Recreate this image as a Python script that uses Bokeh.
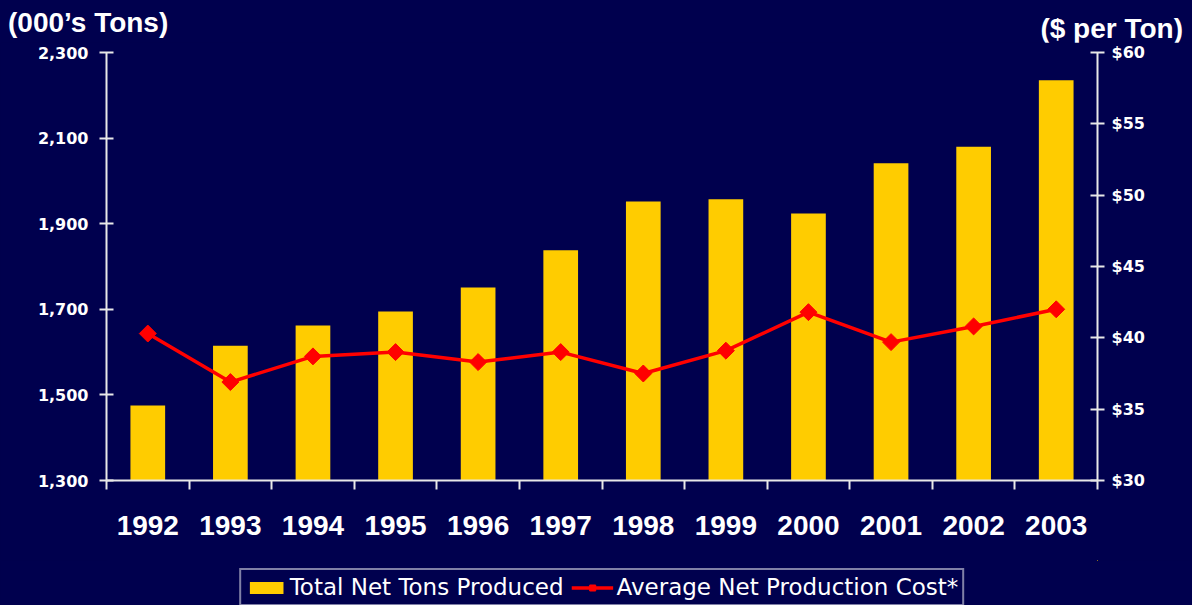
from bokeh.plotting import figure
from bokeh.layouts import column
from bokeh.models import (Range1d, LinearAxis, FixedTicker, NumeralTickFormatter,
                          PrintfTickFormatter, Legend, LegendItem, Div)
from bokeh.embed import file_html
from bokeh.resources import INLINE

years = ["1992", "1993", "1994", "1995", "1996", "1997", "1998", "1999", "2000", "2001", "2002", "2003"]
tons = [1475, 1615, 1662, 1695, 1751, 1838, 1952, 1957, 1924, 2041, 2080, 2235]
cost = [40.3, 36.9, 38.7, 39.0, 38.3, 39.0, 37.5, 39.1, 41.8, 39.7, 40.8, 42.0]
tons_ticks = [1300, 1500, 1700, 1900, 2100, 2300]
cost_ticks = [30, 35, 40, 45, 50, 55, 60]
left_title = "(000\u2019s Tons)"
right_title = "($ per Ton)"
bar_label = "Total Net Tons Produced"
line_label = "Average Net Production Cost*"

BG = "#00004e"
BAR = "#FFCC00"
RED = "#FF0000"
AX = "#e8e8e8"
FONT = "Liberation Sans"
TICKFONT = "DejaVu Sans"

W = 1192
TOP_H = 42
LEG_H = 45
MAIN_H = 605 - TOP_H - LEG_H

idx = list(range(len(years)))
bounds = [i - 0.5 for i in range(len(years) + 1)]

# --- header strip holding the two axis titles ---
title_css = ("position:absolute;font-family:Liberation Sans,Arial,sans-serif;font-weight:bold;"
             "font-size:28px;line-height:28px;color:white;white-space:nowrap;")
html = (f'<div style="position:relative;width:{W}px;height:{TOP_H}px;">'
        f'<span style="{title_css}left:8px;top:9px;">{left_title}</span>'
        f'<span style="{title_css}right:9px;top:15px;">{right_title}</span>'
        f'</div>')
header = Div(text=html, width=W, height=TOP_H, margin=0,
             styles={"background-color": BG, "overflow": "visible"})

# --- main chart ---
p = figure(width=W, height=MAIN_H, output_backend="svg", toolbar_location=None,
           x_range=Range1d(-0.5, len(years) - 0.5), y_range=Range1d(tons_ticks[0], tons_ticks[-1]),
           min_border_left=106, min_border_right=95, min_border_top=52 - TOP_H,
           min_border_bottom=MAIN_H - (480 - TOP_H),
           background_fill_color=BG, border_fill_color=BG, outline_line_color=None, margin=0)
p.extra_y_ranges = {"cost": Range1d(cost_ticks[0], cost_ticks[-1])}
p.grid.visible = False

p.vbar(x=idx, top=tons, bottom=tons_ticks[0], width=0.42, fill_color=BAR, line_color=None)
p.line(x=idx, y=cost, y_range_name="cost", line_color=RED, line_width=3.5)
p.scatter(x=idx, y=cost, y_range_name="cost", marker="square", angle=0.785398, size=12,
          fill_color=RED, line_color=RED)

# x axis
xa = p.xaxis[0]
xa.ticker = FixedTicker(ticks=idx, minor_ticks=bounds)
xa.major_label_overrides = {i: y for i, y in zip(idx, years)}
xa.major_tick_in = 0
xa.major_tick_out = 0
xa.minor_tick_in = 0
xa.minor_tick_out = 9
xa.minor_tick_line_color = AX
xa.minor_tick_line_width = 2
xa.axis_line_color = AX
xa.axis_line_width = 2
xa.major_label_standoff = 26
xa.major_label_text_font = FONT
xa.major_label_text_font_style = "bold"
xa.major_label_text_font_size = "28px"
xa.major_label_text_color = "white"

# left axis
ya = p.yaxis[0]
ya.ticker = FixedTicker(ticks=tons_ticks)
ya.formatter = NumeralTickFormatter(format="0,0")
ya.minor_tick_line_color = None
ya.major_tick_in = 7
ya.major_tick_out = 7
ya.major_tick_line_color = AX
ya.major_tick_line_width = 2
ya.axis_line_color = AX
ya.axis_line_width = 2
ya.major_label_standoff = 11
ya.major_label_text_font = TICKFONT
ya.major_label_text_font_style = "bold"
ya.major_label_text_font_size = "16px"
ya.major_label_text_color = "white"

# right axis
ra = LinearAxis(y_range_name="cost", ticker=FixedTicker(ticks=cost_ticks),
                formatter=PrintfTickFormatter(format="$%d"))
ra.minor_tick_line_color = None
ra.major_tick_in = 7
ra.major_tick_out = 7
ra.major_tick_line_color = AX
ra.major_tick_line_width = 2
ra.axis_line_color = AX
ra.axis_line_width = 2
ra.major_label_standoff = 7
ra.major_label_text_font = TICKFONT
ra.major_label_text_font_style = "bold"
ra.major_label_text_font_size = "16px"
ra.major_label_text_color = "white"
p.add_layout(ra, "right")

# --- legend strip: same series and styles, kept outside this strip's visible ranges ---
lf = figure(width=W, height=LEG_H, output_backend="svg", toolbar_location=None,
            x_axis_type=None, y_axis_type=None, x_range=Range1d(-3, -2), y_range=Range1d(-3, -2),
            min_border_left=106, min_border_right=95, min_border_top=0, min_border_bottom=0,
            background_fill_color=BG, border_fill_color=BG, outline_line_color=None, margin=0)
lb = lf.vbar(x=idx, top=tons, bottom=tons_ticks[0], width=0.42, fill_color=BAR, line_color=None)
ll = lf.line(x=idx, y=cost, line_color=RED, line_width=3.5)
lp = lf.scatter(x=idx, y=cost, marker="square", angle=0.785398, size=12,
                fill_color=RED, line_color=RED)
legend = Legend(items=[LegendItem(label=bar_label, renderers=[lb]),
                       LegendItem(label=line_label, renderers=[ll, lp])],
                orientation="horizontal", location="top_center",
                background_fill_color=BG, background_fill_alpha=1,
                border_line_color="white", border_line_width=2,
                label_text_font="DejaVu Sans",
                label_text_font_size="23px", label_text_color="white",
                glyph_width=42, glyph_height=15, spacing=8, padding=4, margin=8,
                label_standoff=3)
lf.add_layout(legend, "center")

layout = column(header, p, lf, spacing=0, styles={"background-color": BG})
open("out.html", "w").write(file_html(layout, INLINE))
